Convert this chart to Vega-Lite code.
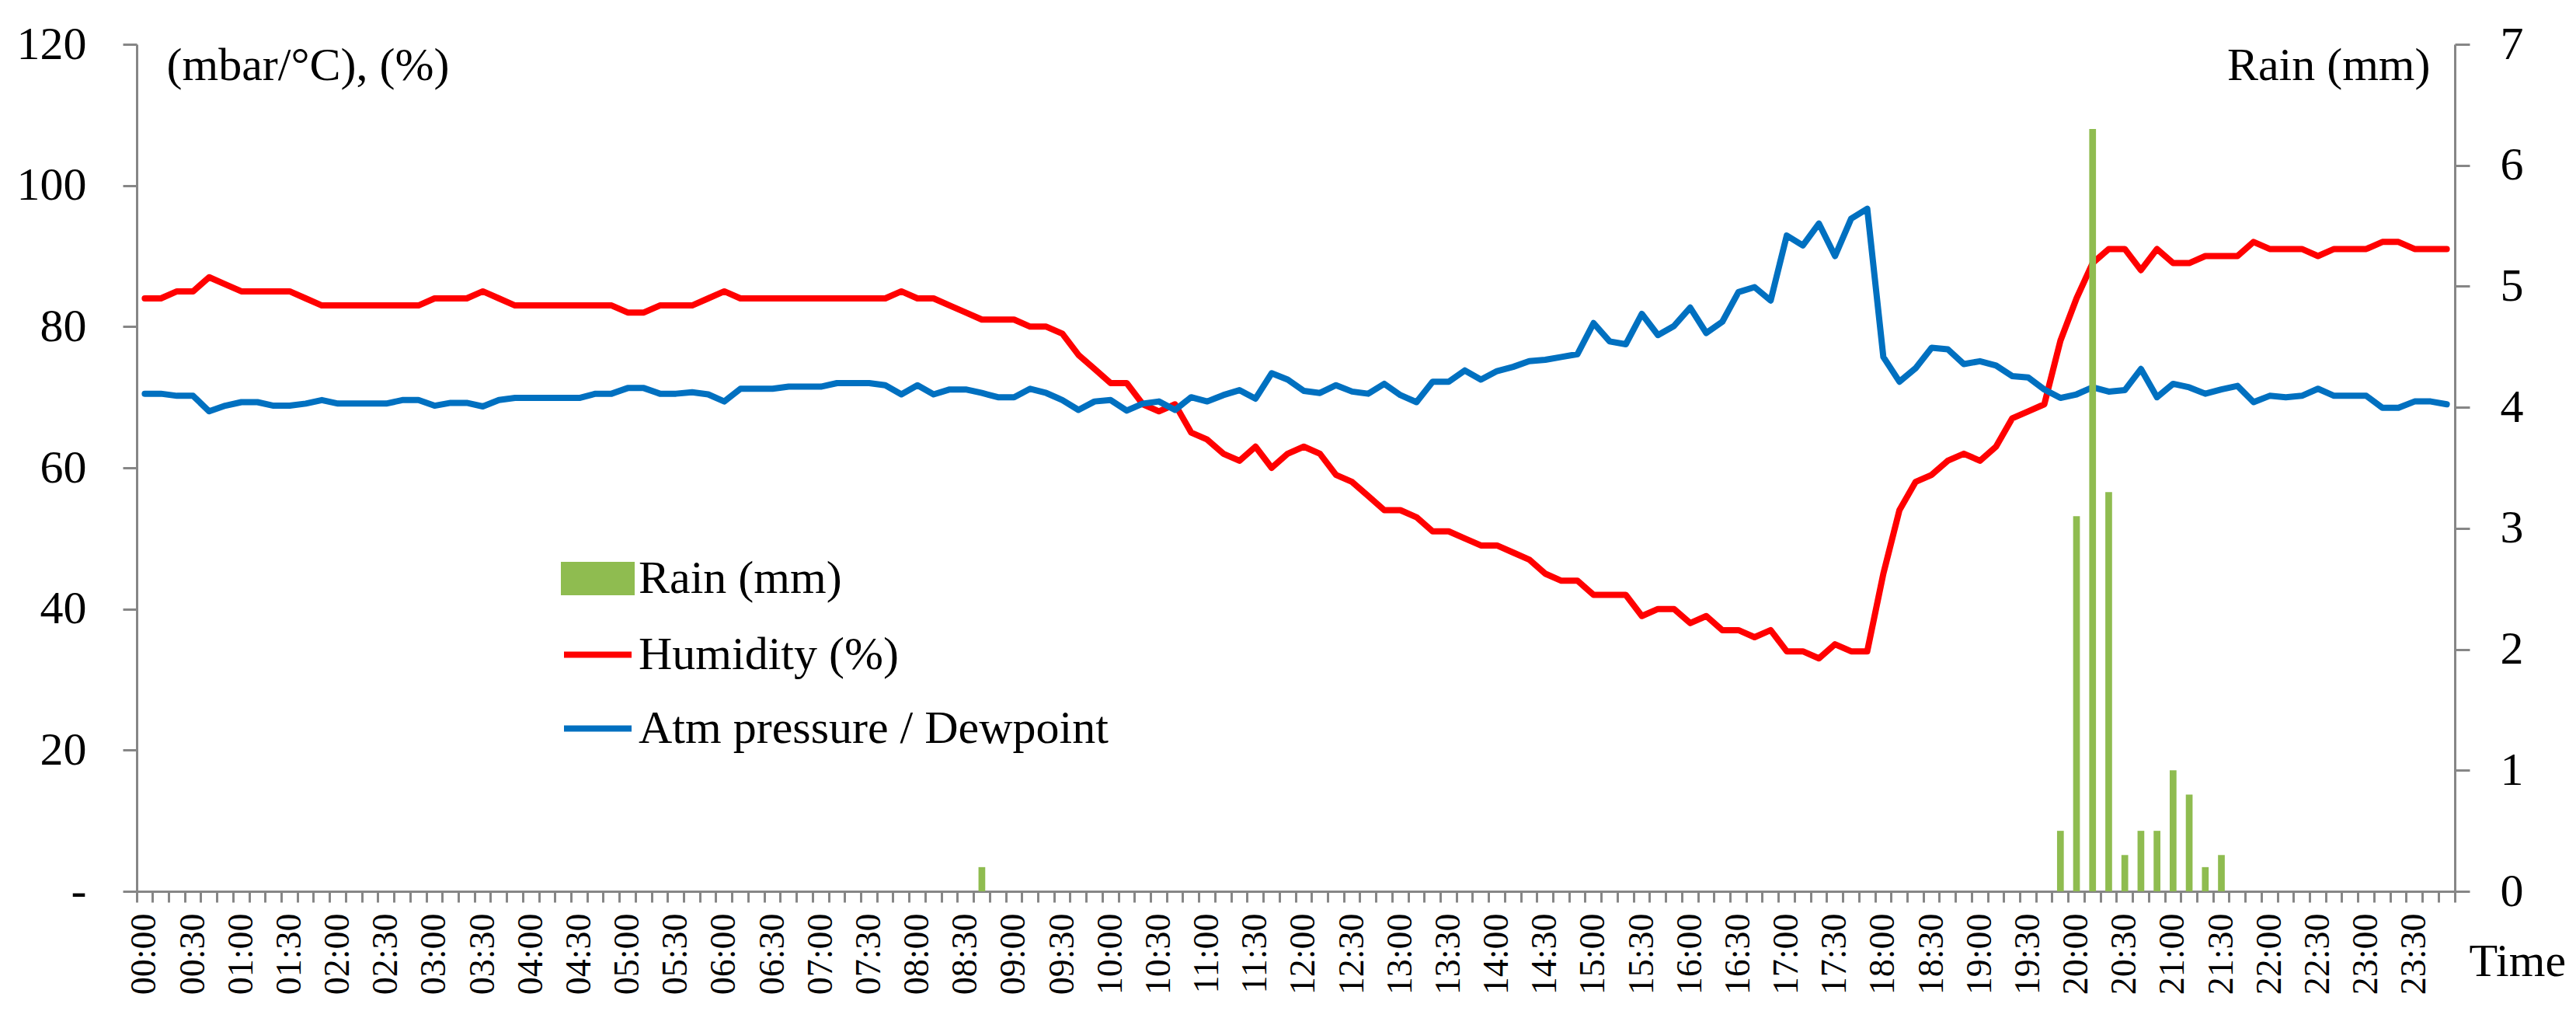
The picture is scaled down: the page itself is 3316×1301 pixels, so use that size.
{
  "$schema": "https://vega.github.io/schema/vega-lite/v6.json",
  "width": 2984,
  "height": 1090,
  "autosize": {"type": "none"},
  "padding": {"left": 176, "top": 57, "right": 156, "bottom": 154},
  "background": "white",
  "config": {
    "view": {"stroke": null},
    "font": "Liberation Serif",
    "style": {"guide-label": {"font": "Liberation Serif"}, "guide-title": {"font": "Liberation Serif"}},
    "axis": {
      "grid": false,
      "domainColor": "#868686",
      "domainWidth": 3,
      "tickColor": "#868686",
      "tickWidth": 3,
      "labelColor": "black",
      "titleColor": "black",
      "labelFont": "Liberation Serif",
      "titleFont": "Liberation Serif",
      "titleFontWeight": "normal"
    }
  },
  "data": {
    "values": [
      {"t": "00:00", "h": 84, "a": 70.5},
      {"t": "00:10", "h": 84, "a": 70.5},
      {"t": "00:20", "h": 85, "a": 70.2},
      {"t": "00:30", "h": 85, "a": 70.2},
      {"t": "00:40", "h": 87, "a": 68.0},
      {"t": "00:50", "h": 86, "a": 68.8},
      {"t": "01:00", "h": 85, "a": 69.3},
      {"t": "01:10", "h": 85, "a": 69.3},
      {"t": "01:20", "h": 85, "a": 68.8},
      {"t": "01:30", "h": 85, "a": 68.8},
      {"t": "01:40", "h": 84, "a": 69.1},
      {"t": "01:50", "h": 83, "a": 69.6},
      {"t": "02:00", "h": 83, "a": 69.1},
      {"t": "02:10", "h": 83, "a": 69.1},
      {"t": "02:20", "h": 83, "a": 69.1},
      {"t": "02:30", "h": 83, "a": 69.1},
      {"t": "02:40", "h": 83, "a": 69.6},
      {"t": "02:50", "h": 83, "a": 69.6},
      {"t": "03:00", "h": 84, "a": 68.8},
      {"t": "03:10", "h": 84, "a": 69.2},
      {"t": "03:20", "h": 84, "a": 69.2},
      {"t": "03:30", "h": 85, "a": 68.7},
      {"t": "03:40", "h": 84, "a": 69.6},
      {"t": "03:50", "h": 83, "a": 69.9},
      {"t": "04:00", "h": 83, "a": 69.9},
      {"t": "04:10", "h": 83, "a": 69.9},
      {"t": "04:20", "h": 83, "a": 69.9},
      {"t": "04:30", "h": 83, "a": 69.9},
      {"t": "04:40", "h": 83, "a": 70.5},
      {"t": "04:50", "h": 83, "a": 70.5},
      {"t": "05:00", "h": 82, "a": 71.3},
      {"t": "05:10", "h": 82, "a": 71.3},
      {"t": "05:20", "h": 83, "a": 70.5},
      {"t": "05:30", "h": 83, "a": 70.5},
      {"t": "05:40", "h": 83, "a": 70.7},
      {"t": "05:50", "h": 84, "a": 70.4},
      {"t": "06:00", "h": 85, "a": 69.4},
      {"t": "06:10", "h": 84, "a": 71.2},
      {"t": "06:20", "h": 84, "a": 71.2},
      {"t": "06:30", "h": 84, "a": 71.2},
      {"t": "06:40", "h": 84, "a": 71.5},
      {"t": "06:50", "h": 84, "a": 71.5},
      {"t": "07:00", "h": 84, "a": 71.5},
      {"t": "07:10", "h": 84, "a": 72.0},
      {"t": "07:20", "h": 84, "a": 72.0},
      {"t": "07:30", "h": 84, "a": 72.0},
      {"t": "07:40", "h": 84, "a": 71.7},
      {"t": "07:50", "h": 85, "a": 70.4},
      {"t": "08:00", "h": 84, "a": 71.7},
      {"t": "08:10", "h": 84, "a": 70.4},
      {"t": "08:20", "h": 83, "a": 71.1},
      {"t": "08:30", "h": 82, "a": 71.1},
      {"t": "08:40", "h": 81, "a": 70.6, "r": 0.2},
      {"t": "08:50", "h": 81, "a": 70.0},
      {"t": "09:00", "h": 81, "a": 70.0},
      {"t": "09:10", "h": 80, "a": 71.2},
      {"t": "09:20", "h": 80, "a": 70.6},
      {"t": "09:30", "h": 79, "a": 69.6},
      {"t": "09:40", "h": 76, "a": 68.2},
      {"t": "09:50", "h": 74, "a": 69.4},
      {"t": "10:00", "h": 72, "a": 69.6},
      {"t": "10:10", "h": 72, "a": 68.1},
      {"t": "10:20", "h": 69, "a": 69.1},
      {"t": "10:30", "h": 68, "a": 69.4},
      {"t": "10:40", "h": 69, "a": 68.2},
      {"t": "10:50", "h": 65, "a": 70.0},
      {"t": "11:00", "h": 64, "a": 69.4},
      {"t": "11:10", "h": 62, "a": 70.3},
      {"t": "11:20", "h": 61, "a": 71.0},
      {"t": "11:30", "h": 63, "a": 69.8},
      {"t": "11:40", "h": 60, "a": 73.4},
      {"t": "11:50", "h": 62, "a": 72.5},
      {"t": "12:00", "h": 63, "a": 70.9},
      {"t": "12:10", "h": 62, "a": 70.6},
      {"t": "12:20", "h": 59, "a": 71.7},
      {"t": "12:30", "h": 58, "a": 70.8},
      {"t": "12:40", "h": 56, "a": 70.5},
      {"t": "12:50", "h": 54, "a": 71.9},
      {"t": "13:00", "h": 54, "a": 70.3},
      {"t": "13:10", "h": 53, "a": 69.3},
      {"t": "13:20", "h": 51, "a": 72.2},
      {"t": "13:30", "h": 51, "a": 72.2},
      {"t": "13:40", "h": 50, "a": 73.8},
      {"t": "13:50", "h": 49, "a": 72.5},
      {"t": "14:00", "h": 49, "a": 73.7},
      {"t": "14:10", "h": 48, "a": 74.3},
      {"t": "14:20", "h": 47, "a": 75.1},
      {"t": "14:30", "h": 45, "a": 75.3},
      {"t": "14:40", "h": 44, "a": 75.7},
      {"t": "14:50", "h": 44, "a": 76.1},
      {"t": "15:00", "h": 42, "a": 80.5},
      {"t": "15:10", "h": 42, "a": 77.9},
      {"t": "15:20", "h": 42, "a": 77.5},
      {"t": "15:30", "h": 39, "a": 81.8},
      {"t": "15:40", "h": 40, "a": 78.8},
      {"t": "15:50", "h": 40, "a": 80.1},
      {"t": "16:00", "h": 38, "a": 82.7},
      {"t": "16:10", "h": 39, "a": 79.1},
      {"t": "16:20", "h": 37, "a": 80.7},
      {"t": "16:30", "h": 37, "a": 84.9},
      {"t": "16:40", "h": 36, "a": 85.6},
      {"t": "16:50", "h": 37, "a": 83.7},
      {"t": "17:00", "h": 34, "a": 92.9},
      {"t": "17:10", "h": 34, "a": 91.5},
      {"t": "17:20", "h": 33, "a": 94.6},
      {"t": "17:30", "h": 35, "a": 90.0},
      {"t": "17:40", "h": 34, "a": 95.3},
      {"t": "17:50", "h": 34, "a": 96.7},
      {"t": "18:00", "h": 45, "a": 75.7},
      {"t": "18:10", "h": 54, "a": 72.2},
      {"t": "18:20", "h": 58, "a": 74.1},
      {"t": "18:30", "h": 59, "a": 77.0},
      {"t": "18:40", "h": 61, "a": 76.8},
      {"t": "18:50", "h": 62, "a": 74.7},
      {"t": "19:00", "h": 61, "a": 75.1},
      {"t": "19:10", "h": 63, "a": 74.5},
      {"t": "19:20", "h": 67, "a": 73.0},
      {"t": "19:30", "h": 68, "a": 72.8},
      {"t": "19:40", "h": 69, "a": 71.1},
      {"t": "19:50", "h": 78, "a": 69.9, "r": 0.5},
      {"t": "20:00", "h": 84, "a": 70.4, "r": 3.1},
      {"t": "20:10", "h": 89, "a": 71.4, "r": 6.3},
      {"t": "20:20", "h": 91, "a": 70.8, "r": 3.3},
      {"t": "20:30", "h": 91, "a": 71.0, "r": 0.3},
      {"t": "20:40", "h": 88, "a": 74.0, "r": 0.5},
      {"t": "20:50", "h": 91, "a": 70.0, "r": 0.5},
      {"t": "21:00", "h": 89, "a": 71.9, "r": 1.0},
      {"t": "21:10", "h": 89, "a": 71.4, "r": 0.8},
      {"t": "21:20", "h": 90, "a": 70.5, "r": 0.2},
      {"t": "21:30", "h": 90, "a": 71.1, "r": 0.3},
      {"t": "21:40", "h": 90, "a": 71.6},
      {"t": "21:50", "h": 92, "a": 69.3},
      {"t": "22:00", "h": 91, "a": 70.2},
      {"t": "22:10", "h": 91, "a": 70.0},
      {"t": "22:20", "h": 91, "a": 70.2},
      {"t": "22:30", "h": 90, "a": 71.2},
      {"t": "22:40", "h": 91, "a": 70.2},
      {"t": "22:50", "h": 91, "a": 70.2},
      {"t": "23:00", "h": 91, "a": 70.2},
      {"t": "23:10", "h": 92, "a": 68.5},
      {"t": "23:20", "h": 92, "a": 68.5},
      {"t": "23:30", "h": 91, "a": 69.4},
      {"t": "23:40", "h": 91, "a": 69.4},
      {"t": "23:50", "h": 91, "a": 69.0}
    ]
  },
  "encoding": {
    "x": {
      "field": "t",
      "type": "nominal",
      "sort": null,
      "scale": {"type": "band", "paddingInner": 0, "paddingOuter": 0},
      "axis": {
        "title": "Time",
        "titleFont": "Liberation Serif",
        "titleFontSize": 60,
        "titleAngle": 0,
        "titleAlign": "left",
        "titleBaseline": "alphabetic",
        "titleX": 3002,
        "titleY": 108,
        "labelFont": "Liberation Serif",
        "labelAngle": -90,
        "labelAlign": "right",
        "labelBaseline": "middle",
        "labelFontSize": 46,
        "labelPadding": 14,
        "tickSize": 14,
        "bandPosition": 1,
        "tickExtra": true,
        "labelExpr": "substring(datum.value, 3, 5) == '00' || substring(datum.value, 3, 5) == '30' ? datum.value : ''"
      }
    }
  },
  "layer": [
    {
      "transform": [{"fold": ["h", "a"], "as": ["k", "v"]}],
      "mark": {"type": "line", "strokeWidth": 8, "strokeCap": "round", "strokeJoin": "round"},
      "encoding": {
        "y": {
          "field": "v",
          "type": "quantitative",
          "scale": {"domain": [0, 120]},
          "axis": {
            "orient": "left",
            "values": [0, 20, 40, 60, 80, 100, 120],
            "labelExpr": "datum.value == 0 ? '-' : datum.label",
            "labelFont": "Liberation Serif",
            "labelFontSize": 60,
            "tickSize": 18,
            "labelPadding": 47,
            "title": "(mbar/°C), (%)",
            "titleFont": "Liberation Serif",
            "titleFontSize": 60,
            "titleAngle": 0,
            "titleAlign": "left",
            "titleBaseline": "alphabetic",
            "titleX": 38,
            "titleY": 45
          }
        },
        "color": {
          "field": "k",
          "type": "nominal",
          "scale": {"domain": ["r", "h", "a"], "range": ["#8FBC50", "#FF0000", "#0070C0"]},
          "legend": {
            "title": null,
            "orient": "none",
            "legendX": 546,
            "legendY": 640,
            "padding": 0,
            "symbolSize": 7569,
            "symbolStrokeWidth": 8,
            "labelFont": "Liberation Serif",
            "labelFontSize": 60,
            "labelColor": "black",
            "labelOffset": 5,
            "labelLimit": 1000,
            "rowPadding": 17,
            "labelExpr": "datum.value == 'r' ? 'Rain (mm)' : datum.value == 'h' ? 'Humidity (%)' : 'Atm pressure / Dewpoint'",
            "encode": {
              "symbols": {
                "update": {
                  "shape": {"signal": "datum.value == 'r' ? 'M-1,-0.4H1V0.4H-1Z' : 'stroke'"},
                  "fill": {"signal": "datum.value == 'r' ? '#8FBC50' : 'transparent'"},
                  "stroke": {"signal": "datum.value == 'h' ? '#FF0000' : datum.value == 'a' ? '#0070C0' : 'transparent'"},
                  "strokeWidth": {"value": 8},
                  "opacity": {"value": 1}
                }
              }
            }
          }
        }
      }
    },
    {
      "mark": {"type": "bar", "width": {"band": 0.42}},
      "encoding": {
        "y": {
          "field": "r",
          "type": "quantitative",
          "scale": {"domain": [0, 7]},
          "axis": {
            "orient": "right",
            "values": [0, 1, 2, 3, 4, 5, 6, 7],
            "labelFont": "Liberation Serif",
            "labelFontSize": 60,
            "tickSize": 19,
            "labelPadding": 39,
            "title": "Rain (mm)",
            "titleFont": "Liberation Serif",
            "titleFontSize": 60,
            "titleAngle": 0,
            "titleAlign": "right",
            "titleBaseline": "alphabetic",
            "titleX": -32,
            "titleY": 45
          }
        },
        "color": {"datum": "r", "type": "nominal"}
      }
    }
  ],
  "resolve": {"scale": {"y": "independent"}}
}
